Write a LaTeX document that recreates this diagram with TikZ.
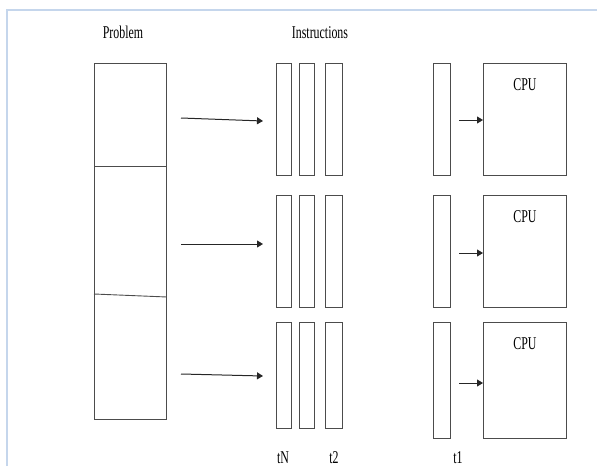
\documentclass[tikz,border=0pt]{standalone}
\usepackage{fontspec}
\setmainfont{Liberation Serif}[FakeStretch=0.66]
\usetikzlibrary{arrows.meta}

\definecolor{framebl}{RGB}{197,214,236}

\tikzset{
  box/.style={draw=black!70, line width=0.9pt, inner sep=0pt, anchor=north west},
  arr/.style={draw=black!85, line width=1pt, -{Triangle[length=6pt,width=7pt]}},
  lbl/.style={font=\fontsize{18}{20}\selectfont, inner sep=0pt, anchor=base},
}

\begin{document}
\begin{tikzpicture}[x=1pt,y=-1pt]
  \useasboundingbox (0,0) rectangle (597,466);

  % window frame
  \draw[framebl, line width=2pt] (7,466) -- (7,10) -- (597,10);

  % headings
  \node[lbl] (problem) at (123,38) {Problem};
  \node[lbl] (instr) at (320,38) {Instructions};

  % problem cut into three parts
  \node[box, minimum width=72pt, minimum height=356pt] (prob) at (94,63) {};
  \draw[black!70, line width=0.9pt] ([yshift=-103pt]prob.north west) -- ([yshift=-103pt]prob.north east);
  \draw[black!70, line width=0.9pt] ([yshift=-231pt]prob.north west) -- ([yshift=-234pt]prob.north east);

  % instruction streams and processors, one row per part
  \foreach \r/\top/\h/\hh/\ya/\yb/\yc in {1/63/112/112/118/121/120,
                                          2/195/112/112/244/244/253,
                                          3/322/106/116/374/376/383} {
    \node[box, minimum width=15pt, minimum height=\h pt] (colN\r) at (276,\top) {};
    \node[box, minimum width=15pt, minimum height=\h pt] (colM\r) at (299,\top) {};
    \node[box, minimum width=17pt, minimum height=\h pt] (colB\r) at (325,\top) {};
    \node[box, minimum width=17pt, minimum height=\hh pt] (colA\r) at (433,\top) {};
    \node[box, minimum width=83pt, minimum height=\hh pt] (cpu\r) at (483,\top) {};
    \node[lbl] (cpulbl\r) at ([yshift=-27pt]cpu\r.north) {CPU};

    % part -> instructions
    \coordinate (ps\r) at (181,\ya);
    \coordinate (pe\r) at (263,\yb);
    \draw[arr] (ps\r) -- (pe\r);

    % instruction -> cpu
    \coordinate (cs\r) at (459,\yc);
    \draw[arr] (cs\r) -- (cs\r -| cpu\r.west);
  }

  % time steps
  \node[lbl] (tN) at (283,463) {tN};
  \node[lbl] (t2) at (334,463) {t2};
  \node[lbl] (t1) at (458,463) {t1};
\end{tikzpicture}
\end{document}
